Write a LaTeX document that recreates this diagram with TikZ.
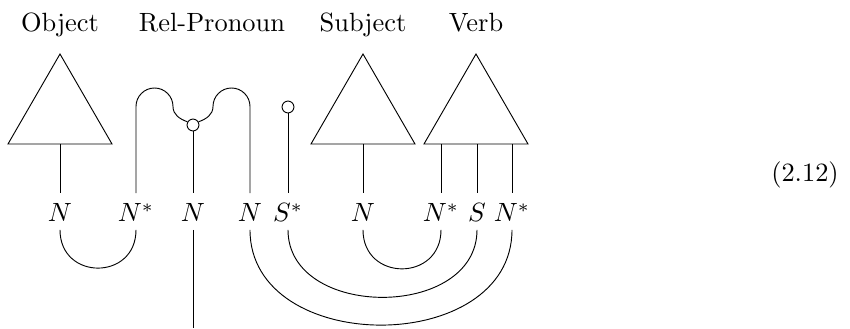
\documentclass[tikz,border=0pt]{standalone}
\usepackage{amsmath,amssymb}
\usepackage{tikz}
\usetikzlibrary{
  positioning,
  calc
}

\tikzset{
  heading/.style={anchor=base},
  lab/.style={anchor=base, inner xsep=1pt, inner ysep=2.8pt, text height=8pt, text depth=0pt},
  knot/.style={circle, draw, inner sep=0pt, minimum size=4.5pt},
}

\begin{document}
\begin{tikzpicture}[x=0.3788pt, y=0.3788pt, line width=0.35pt]
  \useasboundingbox (0,0) rectangle (850,329);
  % headings
  \node[heading] (tObj)  at (60,297)  {Object};
  \node[heading] (tRel)  at (212,297) {Rel-Pronoun};
  \node[heading] (tSubj) at (363,297) {Subject};
  \node[heading] (tVerb) at (476,297) {Verb};
  % boxes
  \foreach \nm/\x in {obj/60, subj/363, verb/476}{
    \draw (\x,275) -- (\x-52,185) -- (\x+52,185) -- cycle;
    \coordinate (\nm) at (\x,185);
  }
  % types
  \node[lab] (nObj)   at (60,107)  {$N$};
  \node[lab] (nRelL)  at (136,107) {$N^*$};
  \node[lab] (nRelM)  at (193,107) {$N$};
  \node[lab] (nRelR)  at (250,107) {$N$};
  \node[lab] (sRel)   at (288,107) {$S^*$};
  \node[lab] (nSubj)  at (363,107) {$N$};
  \node[lab] (nVerbL) at (441,107) {$N^*$};
  \node[lab] (sVerb)  at (477,107) {$S$};
  \node[lab] (nVerbR) at (512,107) {$N^*$};
  % stems
  \draw (obj) -- (nObj.north);
  \draw (subj) -- (nSubj.north);
  \foreach \t in {nVerbL, sVerb, nVerbR}{
    \draw (\t |- verb) -- (\t.north);
  }
  % relative pronoun
  \node[knot] (relc) at (193,204) {};
  \draw (nRelL.north) -- (136,222.5) arc[start angle=180, end angle=0, radius=18.5]
    to[out=-90, in=160] (relc.150);
  \draw (relc.30) to[out=20, in=-90] (213,222.5)
    arc[start angle=180, end angle=0, radius=18.5] -- (nRelR.north);
  \draw (relc.south) -- (nRelM.north);
  \coordinate (relEnd) at (193,1);
  \draw (nRelM.south) -- (relEnd);
  % sentence unit
  \node[knot] (sc) at (288,222) {};
  \draw (sc.south) -- (sRel.north);
  % cups
  \draw (nObj.south) .. controls +(0,-51) and +(0,-51) .. (nRelL.south);
  \draw (nSubj.south) .. controls +(0,-52) and +(0,-52) .. (nVerbL.south);
  \draw (sRel.south) .. controls +(0,-90) and +(0,-90) .. (sVerb.south);
  \draw (nRelR.south) .. controls +(0,-127) and +(0,-127) .. (nVerbR.south);
  % equation number
  \node[anchor=base] (eqno) at (805,147) {(2.12)};
\end{tikzpicture}
\end{document}
